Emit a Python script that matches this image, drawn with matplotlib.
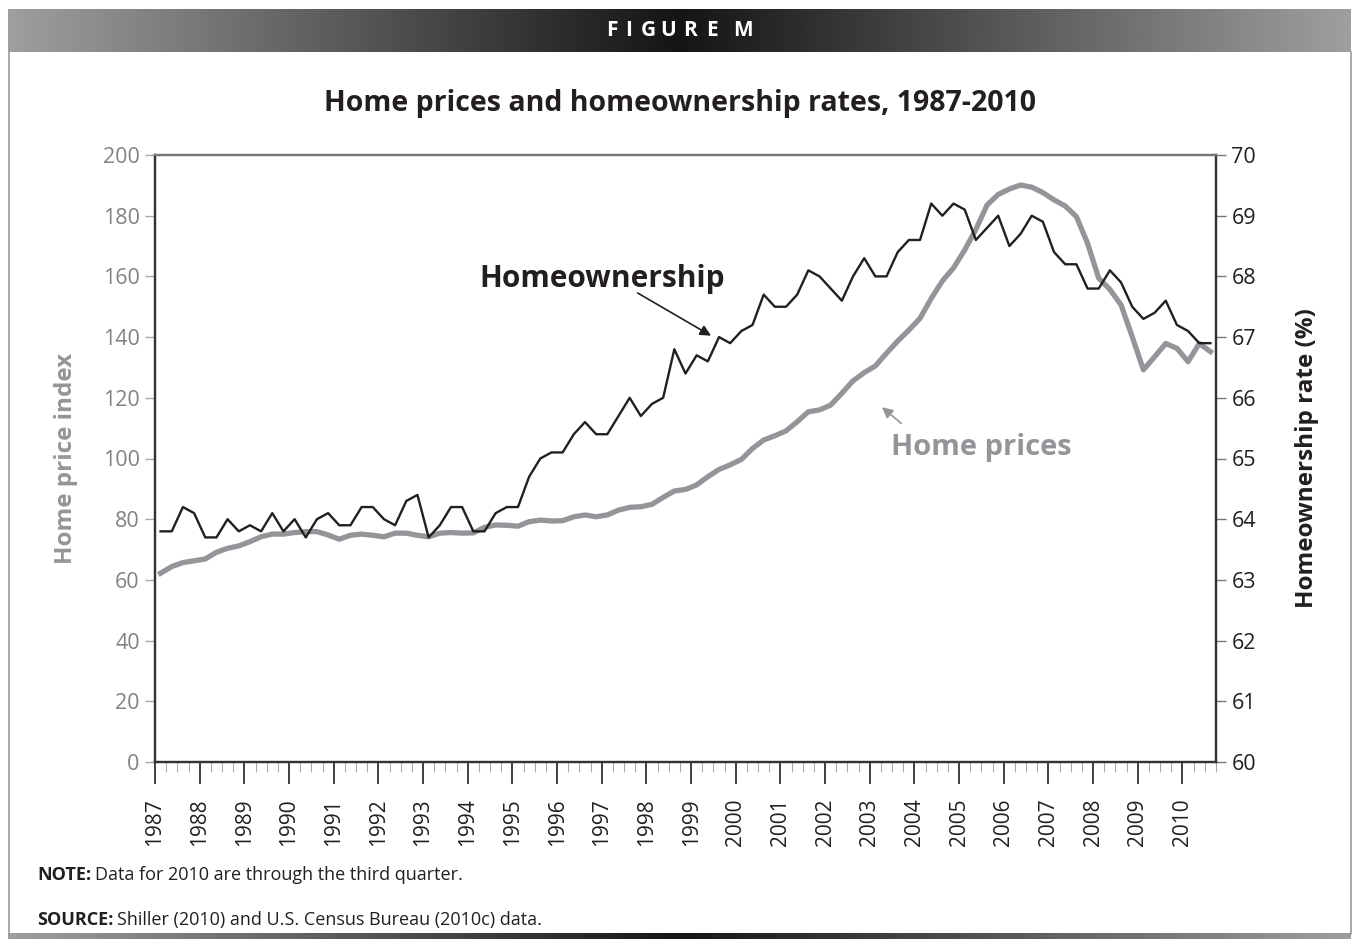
import numpy as np
import matplotlib
matplotlib.use("Agg")
import matplotlib.pyplot as plt
from matplotlib.ticker import FixedLocator, NullFormatter

plt.rcParams['font.family'] = ['Open Sans', 'DejaVu Sans']

# quarterly data, 1987Q1 - 2010Q3
years = list(range(1987, 2011))
home_prices = [
    62.2, 64.4, 65.7, 66.3, 66.9, 69.1, 70.4, 71.2, 72.6, 74.2, 75.1, 75.1,
    75.6, 75.9, 75.9, 74.8, 73.4, 74.7, 75.1, 74.7, 74.2, 75.4, 75.4, 74.7,
    74.2, 75.4, 75.6, 75.4, 75.5, 77.3, 78.1, 78.0, 77.7, 79.2, 79.7, 79.4,
    79.5, 80.8, 81.4, 80.8, 81.4, 83.0, 83.9, 84.1, 84.9, 87.2, 89.3, 89.8,
    91.3, 94.0, 96.4, 97.9, 99.7, 103.3, 106.1, 107.5, 109.1, 112.1, 115.4, 116.0,
    117.6, 121.5, 125.6, 128.3, 130.5, 134.7, 138.7, 142.3, 146.2, 152.7, 158.5, 162.8,
    168.7, 175.5, 183.5, 187.0, 188.8, 190.1, 189.4, 187.6, 185.2, 183.2, 179.7, 170.9,
    159.4, 155.7, 150.6, 140.1, 129.2, 133.5, 137.9, 136.3, 131.9, 137.9, 135.2,
]
ownership = [
    63.8, 63.8, 64.2, 64.1, 63.7, 63.7, 64.0, 63.8, 63.9, 63.8, 64.1, 63.8,
    64.0, 63.7, 64.0, 64.1, 63.9, 63.9, 64.2, 64.2, 64.0, 63.9, 64.3, 64.4,
    63.7, 63.9, 64.2, 64.2, 63.8, 63.8, 64.1, 64.2, 64.2, 64.7, 65.0, 65.1,
    65.1, 65.4, 65.6, 65.4, 65.4, 65.7, 66.0, 65.7, 65.9, 66.0, 66.8, 66.4,
    66.7, 66.6, 67.0, 66.9, 67.1, 67.2, 67.7, 67.5, 67.5, 67.7, 68.1, 68.0,
    67.8, 67.6, 68.0, 68.3, 68.0, 68.0, 68.4, 68.6, 68.6, 69.2, 69.0, 69.2,
    69.1, 68.6, 68.8, 69.0, 68.5, 68.7, 69.0, 68.9, 68.4, 68.2, 68.2, 67.8,
    67.8, 68.1, 67.9, 67.5, 67.3, 67.4, 67.6, 67.2, 67.1, 66.9, 66.9,
]

GRAY = '#939598'
BLACK = '#231f20'
n = len(home_prices)
x = np.arange(n)

fig = plt.figure(figsize=(13.53, 9.39), dpi=100)

# frame and header bar
bg = fig.add_axes([0, 0, 1, 1], zorder=-1)
bg.set_xlim(0, 1353)
bg.set_ylim(939, 0)
bg.axis('off')
grad = np.abs(np.linspace(-1, 1, 512))
bg.imshow(grad[np.newaxis, :], extent=[8, 1351, 52, 9], aspect='auto',
          cmap='gray', vmin=-0.15, vmax=1.7)
bg.imshow(grad[np.newaxis, :], extent=[8, 1351, 939, 933], aspect='auto',
          cmap='gray', vmin=-0.15, vmax=1.7)
bg.plot([8.5, 8.5], [52, 934], color='#9a9a9a', lw=1.2)
bg.plot([1350.5, 1350.5], [52, 934], color='#9a9a9a', lw=1.2)
# widely tracked header letters
for ch, cx in zip('FIGUREM', [612, 629, 648, 668, 690, 712, 743]):
    bg.text(cx, 31, ch, color='white', ha='center', va='center',
            fontsize=15, fontweight='bold')

ax = fig.add_axes([155 / 1353, 1 - 762 / 939, (1216 - 155) / 1353, (762 - 155) / 939])
ax2 = ax.twinx()

ax.plot(x, home_prices, color=GRAY, lw=3.8, solid_joinstyle='round', zorder=2)
ax2.plot(x, ownership, color=BLACK, lw=1.7, zorder=3)

ax.set_xlim(-0.5, n - 0.5)
ax.set_ylim(0, 200)
ax2.set_ylim(60, 70)
ax.set_yticks(range(0, 201, 20))
ax2.set_yticks(range(60, 71))

major = [-0.5 + 4 * k for k in range(len(years))]
minor = [-0.5 + q for q in range(n + 1) if q % 4 != 0]
ax.xaxis.set_major_locator(FixedLocator(major))
ax.xaxis.set_minor_locator(FixedLocator(minor))
ax.set_xticklabels([str(y) for y in years], rotation=90, fontsize=15, color=BLACK)
ax.xaxis.set_minor_formatter(NullFormatter())
ax.tick_params(axis='x', which='major', length=16, width=1.2, color=BLACK, pad=10)
ax.tick_params(axis='x', which='minor', length=7, width=0.8, color='#aaaaaa')
ax.tick_params(axis='y', length=7, width=1, color='#aaaaaa', labelsize=15.5,
               labelcolor='#808285', pad=4)
ax2.tick_params(axis='y', length=7, width=1, color='#777777', labelsize=15.5,
                labelcolor=BLACK, pad=4)

for a in (ax, ax2):
    a.spines['top'].set_color('#777777')
    a.spines['left'].set_color('#333333')
    a.spines['right'].set_color('#333333')
    a.spines['bottom'].set_color('#333333')
    for s in a.spines.values():
        s.set_linewidth(1.6)

ax.set_ylabel('Home price index', color=GRAY, fontsize=17.5, fontweight='bold', labelpad=18)
ax2.set_ylabel('Homeownership rate (%)', color=BLACK, fontsize=17.5, fontweight='bold',
               labelpad=28)

fig.text(680 / 1353, 1 - 104 / 939, 'Home prices and homeownership rates, 1987-2010',
         ha='center', va='center', fontsize=20.5, fontweight='bold', color=BLACK)

# annotations
ax2.annotate('', xy=(49.5, 67.0), xytext=(42.5, 67.75),
             arrowprops=dict(arrowstyle='-|>', color=BLACK, lw=1.2, mutation_scale=16))
ax2.text(39.5, 67.95, 'Homeownership', ha='center', va='center', fontsize=21.5,
         fontweight='bold', color=BLACK)
ax.annotate('', xy=(64.4, 117.5), xytext=(66.5, 111.0),
            arrowprops=dict(arrowstyle='-|>', color=GRAY, lw=1.2, mutation_scale=16))
ax.text(73.5, 103.5, 'Home prices', ha='center', va='center', fontsize=21,
        fontweight='bold', color=GRAY)

# notes: bold lead-in followed by regular text
fig.canvas.draw()
renderer = fig.canvas.get_renderer()
notes = [('NOTE:', 'Data for 2010 are through the third quarter.', 875),
         ('SOURCE:', 'Shiller (2010) and U.S. Census Bureau (2010c) data.', 920)]
for head, body, ypix in notes:
    t = fig.text(37 / 1353, 1 - ypix / 939, head, fontsize=13, fontweight='bold',
                 va='center', color=BLACK)
    bb = t.get_window_extent(renderer)
    fig.text((bb.x1 + 4) / 1353, 1 - ypix / 939, body, fontsize=13,
             va='center', color=BLACK)

fig.savefig('out.png', dpi=100)
